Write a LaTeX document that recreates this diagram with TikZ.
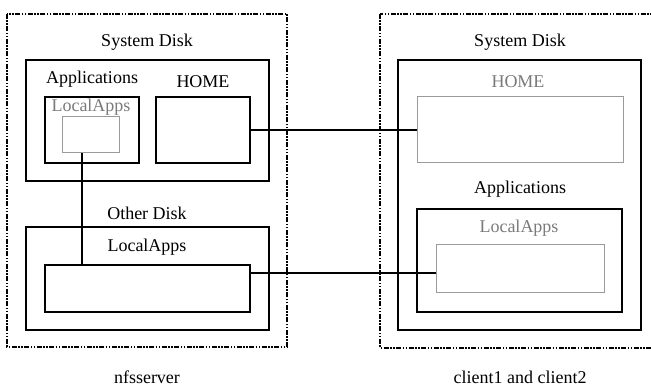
\documentclass[tikz,border=0pt]{standalone}
\usepackage{fontspec}
\setmainfont{Liberation Serif}
\usetikzlibrary{calc}
\definecolor{boxgray}{HTML}{9A9A9A}
\definecolor{txtgray}{HTML}{7A7A7A}
\tikzset{
  outerbox/.style={draw, line width=1.4pt, dash pattern=on 5pt off 1.5pt on 1.5pt off 1.5pt on 1.5pt off 1.5pt},
  blackbox/.style={draw, line width=1.6pt, inner sep=0pt, minimum width=#1},
  graybox/.style={draw=boxgray, line width=1pt, inner sep=0pt},
  lbl/.style={font=\fontsize{18}{21}\selectfont, inner sep=0pt},
  glbl/.style={lbl, text=txtgray},
  conn/.style={line width=1.7pt}
}
\newcommand{\boxnode}[6]{% style, name, x1, y1, x2, y2
  \node[#1, minimum width={#5-#3}, minimum height={#6-#4}] (#2) at ({(#3+#5)/2},{(#4+#6)/2}) {};}
\begin{document}
\begin{tikzpicture}[x=1pt, y=-1pt]
\useasboundingbox (0,0) rectangle (651,387);
\clip (0,0) rectangle (651,387);
% outer dashed boxes
\draw[outerbox] (7,14) rectangle (287,347);
\draw[outerbox] (380,14) rectangle (660,348);
% left: system disk
\node[lbl] (lsys) at (147,42) {System Disk};
\boxnode{blackbox=0pt}{lsysbox}{26}{60}{269}{181}
\node[lbl] (lapp) at (92,79) {Applications};
\node[lbl] (lhomet) at (203,82) {HOME};
\boxnode{blackbox=0pt}{lappbox}{45}{97}{139}{163}
\node[glbl] (llat) at (91,107) {LocalApps};
\boxnode{graybox}{lin}{62}{117}{119}{153}
\boxnode{blackbox=0pt}{lhome}{156}{97}{250}{163}
% left: other disk
\node[lbl] (loth) at (147,213) {Other Disk};
\boxnode{blackbox=0pt}{lothbox}{26}{227}{269}{330}
\node[lbl] (lla2) at (147,247) {LocalApps};
\boxnode{blackbox=0pt}{olin}{45}{265}{250}{312}
\node[lbl] (nfs) at (147,377) {nfsserver};
% right
\node[lbl] (rsys) at (520,42) {System Disk};
\boxnode{blackbox=0pt}{rsysbox}{398}{60}{641}{330}
\node[glbl] (rhomet) at (518,82) {HOME};
\boxnode{graybox}{rhome}{417}{97}{623}{163}
\node[lbl] (rapp) at (520,189) {Applications};
\boxnode{blackbox=0pt}{rappbox}{417}{209}{622}{312}
\node[glbl] (rlat) at (519,228) {LocalApps};
\boxnode{graybox}{rin}{436}{245}{604}{293}
\node[lbl] (cli) at (520,377) {client1 and client2};
% connectors
\draw[conn] (lhome.east) -- (rhome.west);
\coordinate (c1) at ($(lin.south west)!0.35!(lin.south east)$);
\draw[conn] (c1) -- (c1 |- olin.north);
\coordinate (c2) at ($(olin.north east)!0.18!(olin.south east)$);
\draw[conn] (c2) -- (c2 -| rin.west);
\end{tikzpicture}
\end{document}
